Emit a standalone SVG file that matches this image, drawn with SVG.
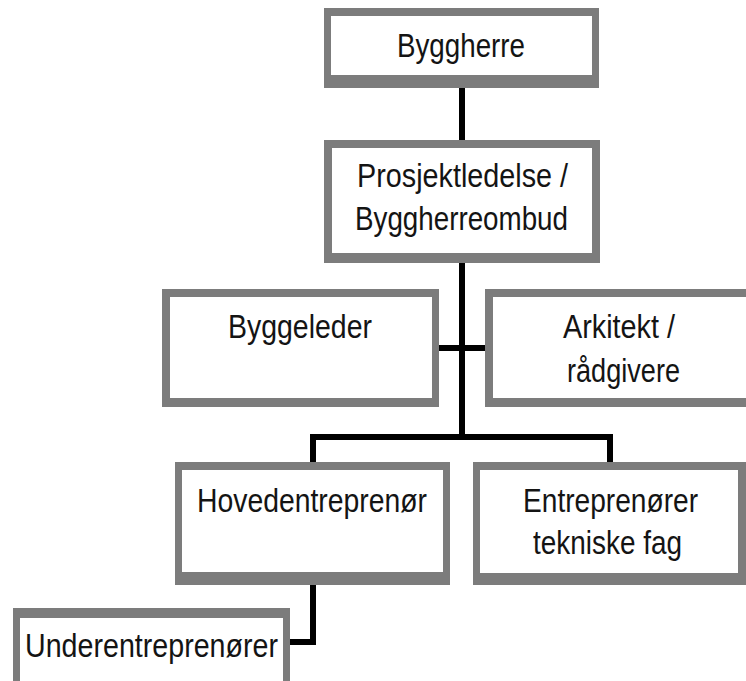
<svg xmlns="http://www.w3.org/2000/svg" width="746" height="681" viewBox="0 0 746 681">
  <style>
    .frame { fill: #7c7c7c; }
    .inner { fill: #ffffff; }
    .label { font-family: "Liberation Sans", Arial, sans-serif; font-size: 34px; fill: #141414; }
    .link { stroke: #000000; stroke-width: 6; fill: none; stroke-linecap: butt; stroke-linejoin: miter; }
  </style>
  <rect width="746" height="681" fill="#ffffff"/>

  <!-- connectors -->
  <g id="connectors">
    <line class="link" x1="462" y1="86" x2="462" y2="142"/>
    <line class="link" x1="462" y1="261" x2="462" y2="440"/>
    <line class="link" x1="437" y1="348" x2="487" y2="348"/>
    <polyline class="link" points="313,464 313,437 610,437 610,465"/>
    <polyline class="link" stroke-width="5" points="313,583 313,642 288,642"/>
  </g>

  <g id="byggherre">
    <rect class="frame" x="324" y="8" width="275" height="80"/>
    <rect class="inner" x="331" y="16" width="261" height="59"/>
    <text class="label" x="397" y="57" textLength="128" lengthAdjust="spacingAndGlyphs">Byggherre</text>
  </g>

  <g id="prosjektledelse">
    <rect class="frame" x="324" y="140" width="276" height="123"/>
    <rect class="inner" x="332" y="148" width="260" height="105"/>
    <text class="label" x="357" y="187" textLength="211" lengthAdjust="spacingAndGlyphs">Prosjektledelse /</text>
    <text class="label" x="355" y="230" textLength="213" lengthAdjust="spacingAndGlyphs">Byggherreombud</text>
  </g>

  <g id="byggeleder">
    <rect class="frame" x="162" y="289" width="277" height="118"/>
    <rect class="inner" x="170" y="297" width="262" height="101"/>
    <text class="label" x="228" y="338" textLength="144" lengthAdjust="spacingAndGlyphs">Byggeleder</text>
  </g>

  <g id="arkitekt">
    <rect class="frame" x="485" y="289" width="270" height="118"/>
    <rect class="inner" x="493" y="297" width="262" height="101"/>
    <text class="label" x="563" y="338" textLength="112" lengthAdjust="spacingAndGlyphs">Arkitekt /</text>
    <text class="label" x="567" y="382" textLength="113" lengthAdjust="spacingAndGlyphs">rådgivere</text>
  </g>

  <g id="hovedentreprenor">
    <rect class="frame" x="175" y="462" width="275" height="123"/>
    <rect class="inner" x="182" y="470" width="261" height="102"/>
    <text class="label" x="197" y="512" textLength="230" lengthAdjust="spacingAndGlyphs">Hovedentreprenør</text>
  </g>

  <g id="entreprenorer">
    <rect class="frame" x="473" y="462" width="273" height="123"/>
    <rect class="inner" x="480" y="470" width="258" height="103"/>
    <text class="label" x="523" y="512" textLength="175" lengthAdjust="spacingAndGlyphs">Entreprenører</text>
    <text class="label" x="533" y="554" textLength="149" lengthAdjust="spacingAndGlyphs">tekniske fag</text>
  </g>

  <g id="underentreprenorer">
    <rect class="frame" x="13" y="608" width="277" height="90"/>
    <rect class="inner" x="20" y="618" width="263" height="80"/>
    <text class="label" x="25" y="657" textLength="253" lengthAdjust="spacingAndGlyphs">Underentreprenører</text>
  </g>
</svg>
